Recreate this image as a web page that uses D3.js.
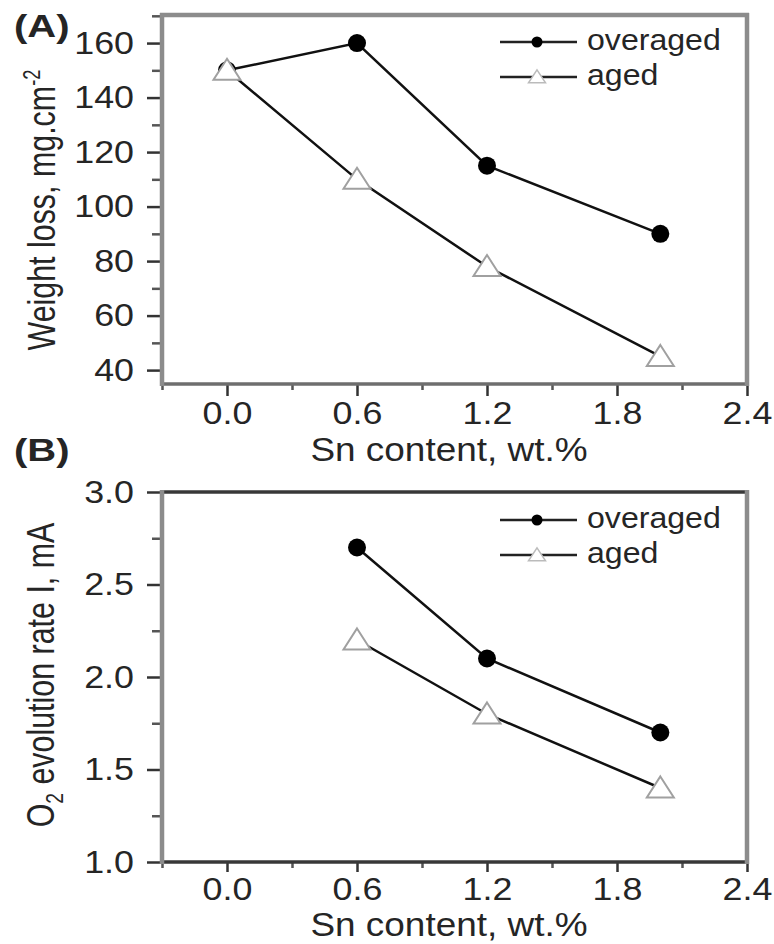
<!DOCTYPE html>
<html>
<head>
<meta charset="utf-8">
<script src="https://cdn.jsdelivr.net/npm/d3@7"></script>
<style>
  body { margin: 0; background: #fff; }
  svg { display: block; }
  text { font-family: "Liberation Sans", Arial, sans-serif; fill: #252525; }
</style>
</head>
<body>
<svg id="chart" width="774" height="944"></svg>
<script>
// data
const snContent = [0.0, 0.6, 1.2, 2.0];
const weightOveraged = [150, 160, 115, 90];
const weightAged = [150, 110, 78, 45];

const o2Sn = [0.6, 1.2, 2.0];
const o2Overaged = [2.7, 2.1, 1.7];
const o2Aged = [2.2, 1.8, 1.4];

const seriesNames = ['overaged', 'aged'];

// ticks
const xTicks = [0.0, 0.6, 1.2, 1.8, 2.4];
const xMinor = [-0.3, 0.3, 0.9, 1.5, 2.1];
const weightTicks = [40, 60, 80, 100, 120, 140, 160];
const weightMinor = [50, 70, 90, 110, 130, 150, 170];
const o2Ticks = [1.0, 1.5, 2.0, 2.5, 3.0];
const o2Minor = [1.25, 1.75, 2.25, 2.75];

const svg = d3.select('#chart');
const x = d3.scaleLinear().domain([-0.3, 2.4]).range([162, 747]);

function triPath(w, h) {
  return `M0,${-h * 0.55}L${w / 2},${h * 0.45}L${-w / 2},${h * 0.45}Z`;
}

function drawPanel(p) {
  const g = svg.append('g');
  const y = p.y;
  const [bottom, top] = y.range();
  const [left, right] = x.range();

  // minor ticks
  g.append('g').attr('transform', `translate(${left},0)`)
    .call(d3.axisLeft(y).tickValues(p.yMinor).tickSize(10).tickFormat(''))
    .call(a => a.select('.domain').remove())
    .selectAll('line').attr('stroke', '#555').attr('stroke-width', 2.5);
  g.append('g').attr('transform', `translate(0,${bottom})`)
    .call(d3.axisBottom(x).tickValues(xMinor).tickSize(6).tickFormat(''))
    .call(a => a.select('.domain').remove())
    .selectAll('line').attr('stroke', '#555').attr('stroke-width', 2.5);

  // major ticks + labels
  const ya = g.append('g').attr('transform', `translate(${left},0)`)
    .call(d3.axisLeft(y).tickValues(p.yTicks).tickSize(15).tickPadding(10).tickFormat(p.yFormat));
  ya.select('.domain').remove();
  ya.selectAll('line').attr('stroke', '#333').attr('stroke-width', 2.5);
  ya.selectAll('text').attr('font-size', 32).attr('fill', '#252525')
    .attr('transform', 'scale(1.12,1)');

  const xa = g.append('g').attr('transform', `translate(0,${bottom})`)
    .call(d3.axisBottom(x).tickValues(xTicks).tickSize(p.xTickLen).tickPadding(5).tickFormat(d3.format('.1f')));
  xa.select('.domain').remove();
  xa.selectAll('line').attr('stroke', '#333').attr('stroke-width', 2.5);
  xa.selectAll('text').attr('font-size', 32).attr('fill', '#252525')
    .attr('transform', 'scale(1.12,1)');

  // frame
  g.append('line').attr('x1', left - 2).attr('x2', right + 2).attr('y1', top).attr('y2', top)
    .attr('stroke', p.topColor).attr('stroke-width', p.topWidth);
  g.append('line').attr('x1', left - 2).attr('x2', right + 2).attr('y1', bottom).attr('y2', bottom)
    .attr('stroke', p.bottomColor).attr('stroke-width', 3.5);
  g.append('line').attr('x1', left).attr('x2', left).attr('y1', top - 2).attr('y2', bottom + 2)
    .attr('stroke', '#8c8c8c').attr('stroke-width', 4.5);
  g.append('line').attr('x1', right).attr('x2', right).attr('y1', top - 2).attr('y2', bottom + 2)
    .attr('stroke', '#8c8c8c').attr('stroke-width', 4.5);

  // series
  const line = d3.line().x(d => x(d[0])).y(d => y(d[1]));
  const overPts = p.xs.map((v, i) => [v, p.over[i]]);
  const agedPts = p.xs.map((v, i) => [v, p.aged[i]]);

  [agedPts, overPts].forEach(pts => {
    g.append('path').datum(pts).attr('d', line)
      .attr('fill', 'none').attr('stroke', '#111').attr('stroke-width', 2.5);
  });

  g.selectAll('.dot').data(overPts).enter().append('circle')
    .attr('cx', d => x(d[0])).attr('cy', d => y(d[1])).attr('r', 9)
    .attr('fill', '#000');

  g.selectAll('.tri').data(agedPts).enter().append('path')
    .attr('d', triPath(27, 21))
    .attr('transform', d => `translate(${x(d[0])},${y(d[1])})`)
    .attr('fill', '#fff').attr('stroke', '#a0a0a0').attr('stroke-width', 2);

  // legend
  seriesNames.forEach((name, i) => {
    const ly = p.legendY[i];
    g.append('line').attr('x1', 500).attr('x2', 577).attr('y1', ly).attr('y2', ly)
      .attr('stroke', '#222').attr('stroke-width', 2.5);
    if (i === 0) {
      g.append('circle').attr('cx', 537).attr('cy', ly).attr('r', 5.5).attr('fill', '#000');
    } else {
      g.append('path').attr('d', triPath(17, 13))
        .attr('transform', `translate(537,${ly})`)
        .attr('fill', '#fff').attr('stroke', '#bbb').attr('stroke-width', 1.5);
    }
    g.append('text').attr('transform', `translate(587,${ly + 8}) scale(1.07,1)`)
      .attr('font-size', 30).text(name);
  });

  // panel label
  g.append('text').attr('transform', `translate(14,${p.labelY}) scale(1.25,1)`)
    .attr('font-size', 32).attr('font-weight', 'bold').attr('fill', '#111').text(p.label);

  // x title
  g.append('text').attr('transform', `translate(449,${p.xTitleY}) scale(1.12,1)`)
    .attr('text-anchor', 'middle').attr('font-size', 33).text('Sn content, wt.%');

  // y title
  const yt = g.append('text')
    .attr('transform', `translate(${p.yTitlePos[0]},${p.yTitlePos[1]}) rotate(-90) scale(0.8,1)`)
    .attr('text-anchor', 'middle').attr('font-size', 38);
  p.yTitle(yt);
}

drawPanel({
  y: d3.scaleLinear().domain([34.9, 170.3]).range([384, 15]),
  yTicks: weightTicks, yMinor: weightMinor, yFormat: d3.format('d'),
  xs: snContent, over: weightOveraged, aged: weightAged,
  xTickLen: 12,
  topColor: '#8c8c8c', topWidth: 4.5, bottomColor: '#6e6e6e',
  legendY: [42, 77],
  label: '(A)', labelY: 37,
  xTitleY: 461,
  yTitlePos: [55, 210],
  yTitle: t => {
    t.append('tspan').text('Weight loss, mg.cm');
    t.append('tspan').attr('font-size', 23).attr('dy', -15).text('-2');
  }
});

drawPanel({
  y: d3.scaleLinear().domain([1.0, 3.0]).range([862, 492]),
  yTicks: o2Ticks, yMinor: o2Minor, yFormat: d3.format('.1f'),
  xs: o2Sn, over: o2Overaged, aged: o2Aged,
  xTickLen: 10,
  topColor: '#383838', topWidth: 3.5, bottomColor: '#383838',
  legendY: [520, 555],
  label: '(B)', labelY: 461,
  xTitleY: 936,
  yTitlePos: [54, 675],
  yTitle: t => {
    t.append('tspan').text('O');
    t.append('tspan').attr('font-size', 24).attr('dy', 9).text('2');
    t.append('tspan').attr('dy', -9).text(' evolution rate I, mA');
  }
});
</script>
</body>
</html>
